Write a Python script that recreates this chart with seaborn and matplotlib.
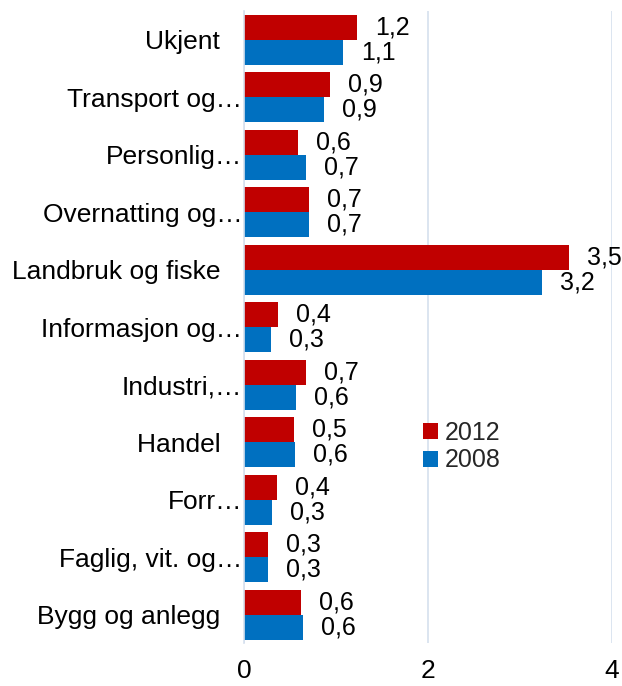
import pandas as pd
import matplotlib.pyplot as plt
import seaborn as sns

sns.set_theme(style="white")
plt.rcParams['font.family'] = ['Liberation Sans', 'DejaVu Sans']

categories = ["Ukjent   ", "Transport og…", "Personlig…", "Overnatting og…",
              "Landbruk og fiske   ", "Informasjon og…", "Industri,…", "Handel   ",
              "Forr…", "Faglig, vit. og…", "Bygg og anlegg   "]
values_2012 = [1.23, 0.94, 0.59, 0.71, 3.53, 0.37, 0.67, 0.54, 0.36, 0.26, 0.62]
values_2008 = [1.08, 0.87, 0.67, 0.71, 3.24, 0.29, 0.57, 0.56, 0.31, 0.26, 0.64]
years = ["2012", "2008"]
colors = ["#C00000", "#0070C0"]

df = pd.DataFrame({
    "kategori": categories * 2,
    "verdi": values_2012 + values_2008,
    "aar": [years[0]] * len(categories) + [years[1]] * len(categories),
})

fig = plt.figure(figsize=(6.22, 6.86), dpi=100)
ax = fig.add_axes([0.392, 0.062, 0.592, 0.922])

sns.barplot(data=df, y="kategori", x="verdi", hue="aar", hue_order=years,
            palette=colors, order=categories, orient="h", width=0.87,
            saturation=1, errorbar=None, ax=ax, edgecolor="none")

for cont in ax.containers:
    ax.bar_label(cont, fmt=lambda v: f"{v:.1f}".replace(".", ","),
                 padding=13, fontsize=18, color="black")

ax.set_xlim(0, 4)
ax.set_ylim(10.5, -0.5)
ax.set_xticks([0, 2, 4])
ax.set_xticklabels(["0", "2", "4"])
ax.xaxis.grid(True, color="#D5E0EE", linewidth=1.2)
ax.set_axisbelow(True)
for side in ["top", "right", "bottom"]:
    ax.spines[side].set_visible(False)
ax.spines["left"].set_color("#D5E0EE")
ax.spines["left"].set_linewidth(1.2)
ax.tick_params(axis="both", length=0, labelsize=19, colors="black")
ax.tick_params(axis="y", pad=1)
ax.tick_params(axis="x", pad=11)
ax.set_xlabel("")
ax.set_ylabel("")

leg = ax.legend(loc="upper left", bbox_to_anchor=(0.66, 0.405),
                bbox_transform=fig.transFigure, frameon=False, fontsize=18,
                handlelength=0.6, handleheight=0.6, handletextpad=0.25,
                labelspacing=0.15, borderpad=0)

fig.savefig("out.png", dpi=100)
